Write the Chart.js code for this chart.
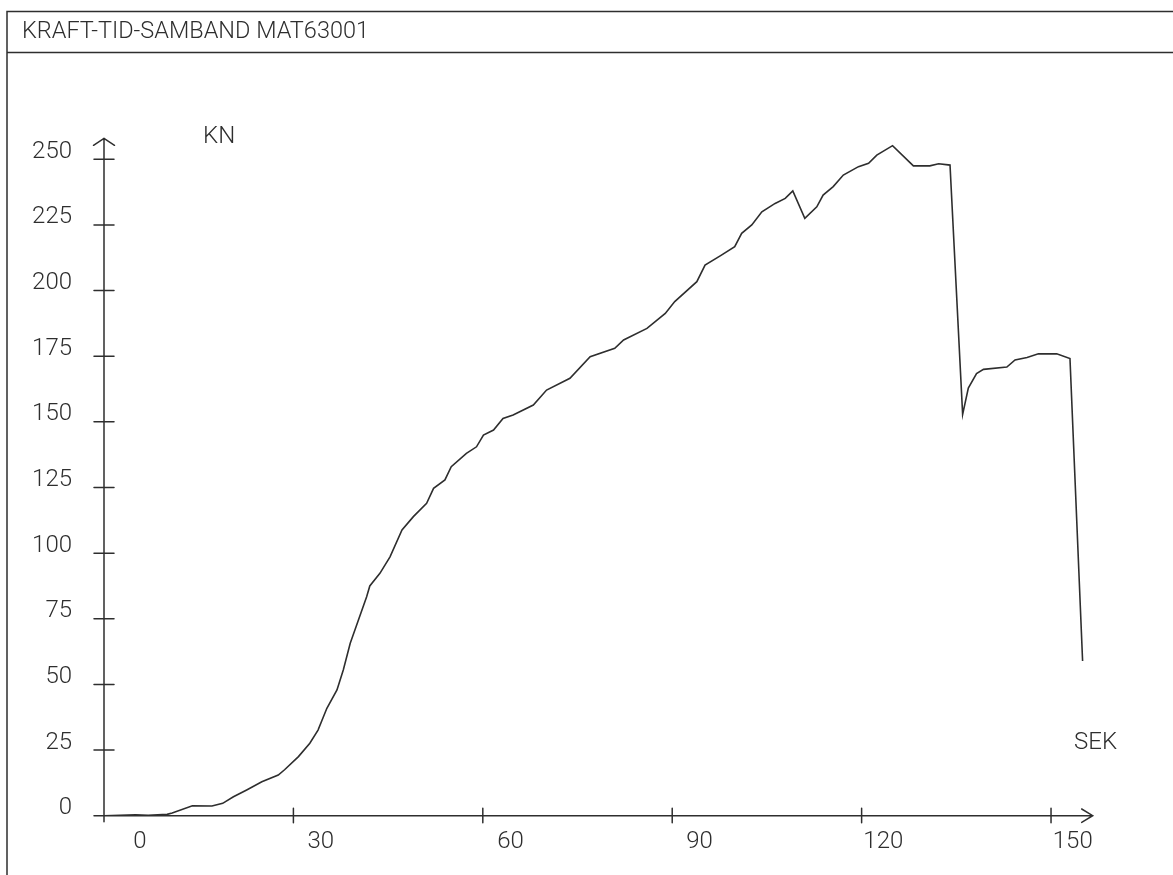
<!DOCTYPE html>
<html>
<head>
<meta charset="utf-8">
<script src="https://cdn.jsdelivr.net/npm/chart.js@4.4.1/dist/chart.umd.min.js"></script>
<style>
html,body{margin:0;padding:0;background:#ffffff;}
#wrap{width:1173px;height:875px;position:relative;}
</style>
</head>
<body>
<div id="wrap"><canvas id="c"></canvas></div>
<script>
// ---- data ----
const titleText = 'KRAFT-TID-SAMBAND MAT63001';
const yUnit = 'KN';
const xUnit = 'SEK';
const xTickValues = [0, 30, 60, 90, 120, 150];
const yTickValues = [0, 25, 50, 75, 100, 125, 150, 175, 200, 225, 250];
const timeSec = [
  0, 5, 7, 10, 10.8, 14.0, 17.1, 18.8, 20.5, 22.6, 25.0, 27.6, 28.6, 30.8, 32.6, 33.9,
  35.3, 36.9, 37.9, 39.0, 40.3, 41.6, 42.1, 43.7, 45.3, 47.2, 49.0, 51.1, 52.2, 54.0,
  55.0, 57.4, 59.0, 60.1, 61.7, 63.2, 64.8, 68.0, 70.1, 73.8, 77.0, 80.9, 82.3, 86.0,
  88.9, 90.4, 93.9, 95.2, 97.6, 99.9, 101.0, 102.6, 104.2, 106.3, 107.9, 109.1, 111.0,
  112.9, 113.9, 115.5, 117.1, 119.5, 121.1, 122.4, 124.9, 128.2, 130.8, 132.2, 134.0,
  136.0, 136.9, 138.2, 139.3, 143.0, 144.3, 146.2, 148.0, 150.9, 153.0, 155.0
];
const forceKN = [
  0, 0.3, 0.2, 0.5, 1.0, 3.8, 3.7, 4.7, 7.2, 9.8, 12.9, 15.5, 17.5, 22.5, 27.6, 32.6,
  40.9, 47.9, 55.5, 65.7, 74.5, 83.4, 87.5, 92.3, 98.6, 108.8, 113.9, 119.0, 124.7, 127.9,
  132.9, 138.0, 140.5, 145.0, 146.9, 151.3, 152.6, 156.4, 162.1, 166.6, 174.8, 178.0, 181.2, 185.6,
  191.3, 195.8, 203.4, 209.7, 213.2, 216.7, 221.8, 225.0, 230.0, 233.2, 235.1, 238.0, 227.5,
  231.9, 236.4, 239.6, 244.0, 247.2, 248.5, 251.6, 255.2, 247.5, 247.5, 248.3, 247.8,
  152.8, 162.9, 168.4, 170.0, 170.9, 173.6, 174.5, 175.9, 175.9, 174.1, 58.9
];

// ---- drawing ----
const INK = '#2e2e2e';
const FONT = '300 24px Roboto, "Liberation Sans", sans-serif';
const xLabelShift = [36, 27.4, 27.7, 27.3, 21.7, 21.7];

const plotterPlugin = {
  id: 'plotter',
  afterDraw(chart) {
    const ctx = chart.ctx;
    const xs = chart.scales.x, ys = chart.scales.y;
    const ax = xs.getPixelForValue(0);
    const ay = ys.getPixelForValue(0);
    const xEnd = xs.getPixelForValue(xs.max);
    const yTop = ys.getPixelForValue(ys.max);
    const W = chart.width, H = chart.height;
    ctx.save();
    ctx.strokeStyle = INK;
    ctx.fillStyle = INK;
    ctx.lineWidth = 1.5;
    ctx.lineCap = 'round';
    // frame and title box
    ctx.beginPath();
    ctx.moveTo(7, H + 2); ctx.lineTo(7, 11.5); ctx.lineTo(W + 2, 11.5);
    ctx.moveTo(7, 52.5); ctx.lineTo(W + 2, 52.5);
    ctx.stroke();
    ctx.font = FONT;
    ctx.textBaseline = 'middle';
    ctx.textAlign = 'left';
    ctx.fillText(titleText, 22, 31.5, 347);
    // axes
    ctx.beginPath();
    ctx.moveTo(ax - 10, ay); ctx.lineTo(xEnd, ay);
    ctx.moveTo(ax, ay + 6); ctx.lineTo(ax, yTop);
    // y arrow
    ctx.moveTo(ax - 10.5, yTop + 7); ctx.lineTo(ax, yTop); ctx.lineTo(ax + 10.5, yTop + 7);
    // x arrow
    ctx.moveTo(xEnd - 11, ay - 6.7); ctx.lineTo(xEnd, ay); ctx.lineTo(xEnd - 11, ay + 6.7);
    // y ticks
    yTickValues.forEach(v => {
      if (v === 0) return;
      const py = ys.getPixelForValue(v);
      ctx.moveTo(ax - 10, py); ctx.lineTo(ax + 10, py);
    });
    // x ticks
    xTickValues.forEach(v => {
      if (v === 0) return;
      const px = xs.getPixelForValue(v);
      ctx.moveTo(px, ay - 7.5); ctx.lineTo(px, ay + 7);
    });
    ctx.stroke();
    // y labels
    ctx.textAlign = 'right';
    yTickValues.forEach(v => {
      const py = ys.getPixelForValue(v);
      ctx.fillText(String(v), 72, py - 7.5);
    });
    // x labels
    ctx.textAlign = 'center';
    xTickValues.forEach((v, i) => {
      const px = xs.getPixelForValue(v);
      ctx.fillText(String(v), px + xLabelShift[i], 841.5);
    });
    // units
    ctx.textAlign = 'left';
    ctx.fillText(yUnit, 203, 137);
    ctx.fillText(xUnit, 1074, 743);
    ctx.restore();
  }
};

new Chart(document.getElementById('c'), {
  type: 'line',
  data: {
    datasets: [{
      data: timeSec.map((t, i) => ({ x: t, y: forceKN[i] })),
      borderColor: INK,
      borderWidth: 1.6,
      pointRadius: 0,
      tension: 0,
      fill: false
    }]
  },
  options: {
    responsive: true,
    maintainAspectRatio: false,
    animation: false,
    events: [],
    layout: { padding: { left: 104, right: 80.3, top: 138.3, bottom: 59.3 } },
    plugins: { legend: { display: false }, title: { display: false }, tooltip: { enabled: false } },
    scales: {
      x: { type: 'linear', min: 0, max: 156.6, display: false },
      y: { type: 'linear', min: 0, max: 258, display: false }
    }
  },
  plugins: [plotterPlugin]
});
</script>
</body>
</html>
